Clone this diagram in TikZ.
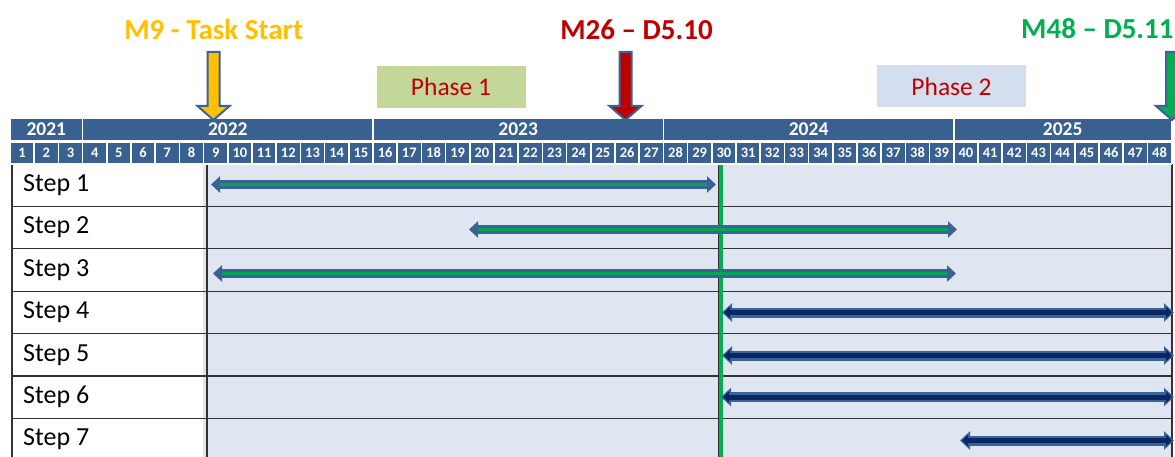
\documentclass[tikz,border=0pt]{standalone}
\usepackage{fontspec}
\setmainfont{Carlito}
\usepackage{tikz}
\usetikzlibrary{arrows.meta,calc,positioning}

\definecolor{hdrblue}{HTML}{386192}
\definecolor{chartbg}{HTML}{DFE6F2}
\definecolor{arrblue}{HTML}{3B6296}
\definecolor{navyin}{HTML}{0B2664}
\definecolor{stepgreen}{HTML}{00A651}
\definecolor{msorange}{HTML}{FFC000}
\definecolor{msred}{HTML}{C00000}
\definecolor{msgreen}{HTML}{00B050}
\definecolor{phaseone}{HTML}{C4D79B}
\definecolor{phasetwo}{HTML}{D3DFEE}

\tikzset{
	hdrcell/.style={rectangle,fill=hdrblue,draw=white,line width=1.5pt,inner sep=0pt,outer sep=0pt,text=white},
	monthcell/.style={hdrcell,minimum width=24.2pt,minimum height=22pt,font=\fontsize{14.5}{15}\selectfont\bfseries},
	yearcell/.style={hdrcell,minimum height=23pt,font=\fontsize{19.5}{20}\selectfont\bfseries},
	steplabel/.style={anchor=west,inner sep=0pt,font=\fontsize{26}{27}\selectfont},
	phasebox/.style={rectangle,inner sep=0pt,minimum width=149pt,minimum height=42pt,text=msred,font=\fontsize{25.5}{26}\selectfont},
	mslabel/.style={inner sep=0pt,font=\fontsize{29}{30}\selectfont\bfseries},
	msarrow/.style={draw=arrblue,line width=2pt,line join=miter},
	gridline/.style={black!80,line width=1.3pt},
	gbarout/.style={arrblue,line width=8.5pt,{Triangle[width=16pt,length=9pt]}-{Triangle[width=16pt,length=9pt]}},
	gbarin/.style={stepgreen,line width=3.5pt,shorten <=9pt,shorten >=9pt},
	nbarout/.style={arrblue,line width=10pt,{Triangle[width=18pt,length=10pt]}-{Triangle[width=18pt,length=10pt]}},
	nbarin/.style={navyin,line width=5pt,shorten <=2pt,shorten >=2pt,{Triangle[width=11pt,length=6pt]}-{Triangle[width=11pt,length=6pt]}}
}

\begin{document}
\begin{tikzpicture}[x=1pt,y=-1pt]
	\useasboundingbox (0,0) rectangle (1175,457);
	\clip (0,0) rectangle (1175,457);
	\fill[white] (0,0) rectangle (1175,457);
	
	% chart body
	\fill[chartbg] (203,164) rectangle (1172,457);
	\foreach \k in {1,...,6}
		\draw[gridline] (12,{164+\k*42.4}) -- (1172,{164+\k*42.4});
	\draw[gridline] (12,164) -- (12,457);
	\draw[gridline] (207,164) -- (207,457);
	\draw[gridline] (1172,164) -- (1172,457);
	\draw[gridline] (718.3,164) -- (718.3,457);
	\draw[msgreen,line width=3.5pt] (721,164) -- (721,457);
	
	\foreach \i in {1,...,7}
		\node[steplabel] (step\i) at (23,{164+(\i-0.5)*42.4}) {Step \i};
	
	% header
	\foreach \m in {1,...,48}
		\node[monthcell] (m\m) at ({10+(\m-0.5)*24.2},153) {\m};
	\foreach \yr/\a/\b in {2021/1/3,2022/4/15,2023/16/27,2024/28/39,2025/40/48}{
		\pgfmathsetmacro\xl{10+(\a-1)*24.2}
		\pgfmathsetmacro\xr{10+\b*24.2}
		\node[yearcell,minimum width={(\xr-\xl)*1pt}] (y\yr) at ({(\xl+\xr)/2},129.5) {\yr};
	}
	
	% phases
	\node[phasebox,fill=phaseone] (ph1) at (451,87) {Phase 1};
	\node[phasebox,fill=phasetwo] (ph2) at (951.5,86.5) {Phase 2};
	
	% milestones
	\foreach \x/\col in {213.5/msorange,625.5/msred,1172/msgreen}
		\draw[msarrow,fill=\col] ({\x-6},52) -- ({\x+6},52) -- ({\x+6},106) -- ({\x+16},106)
			-- (\x,120) -- ({\x-16},106) -- ({\x-6},106) -- cycle;
	\node[mslabel,text=msorange] (ms9) at (213.7,29) {M9 - Task Start};
	\node[mslabel,text=msred] (ms26) at (636.5,30) {M26 -- D5.10};
	\node[mslabel,text=msgreen,anchor=west] (ms48) at (1021,29) {M48 -- D5.11};
	
	% step bars
	\foreach \s/\xa/\xb/\y in {1/211/716/184.5,2/469/957/229.5,3/213/956/273.5}{
		\coordinate (a\s) at (\xa,\y);
		\coordinate (b\s) at (\xb,\y);
		\draw[gbarout] (a\s) -- (b\s);
		\draw[gbarin] (a\s) -- (b\s);
	}
	\foreach \s/\xa/\xb/\y in {4/722/1174/312.5,5/722/1174/355.5,6/721/1174/397,7/960/1174/440.5}{
		\coordinate (a\s) at (\xa,\y);
		\coordinate (b\s) at (\xb,\y);
		\draw[nbarout] (a\s) -- (b\s);
		\draw[nbarin] (a\s) -- (b\s);
	}
\end{tikzpicture}
\end{document}
